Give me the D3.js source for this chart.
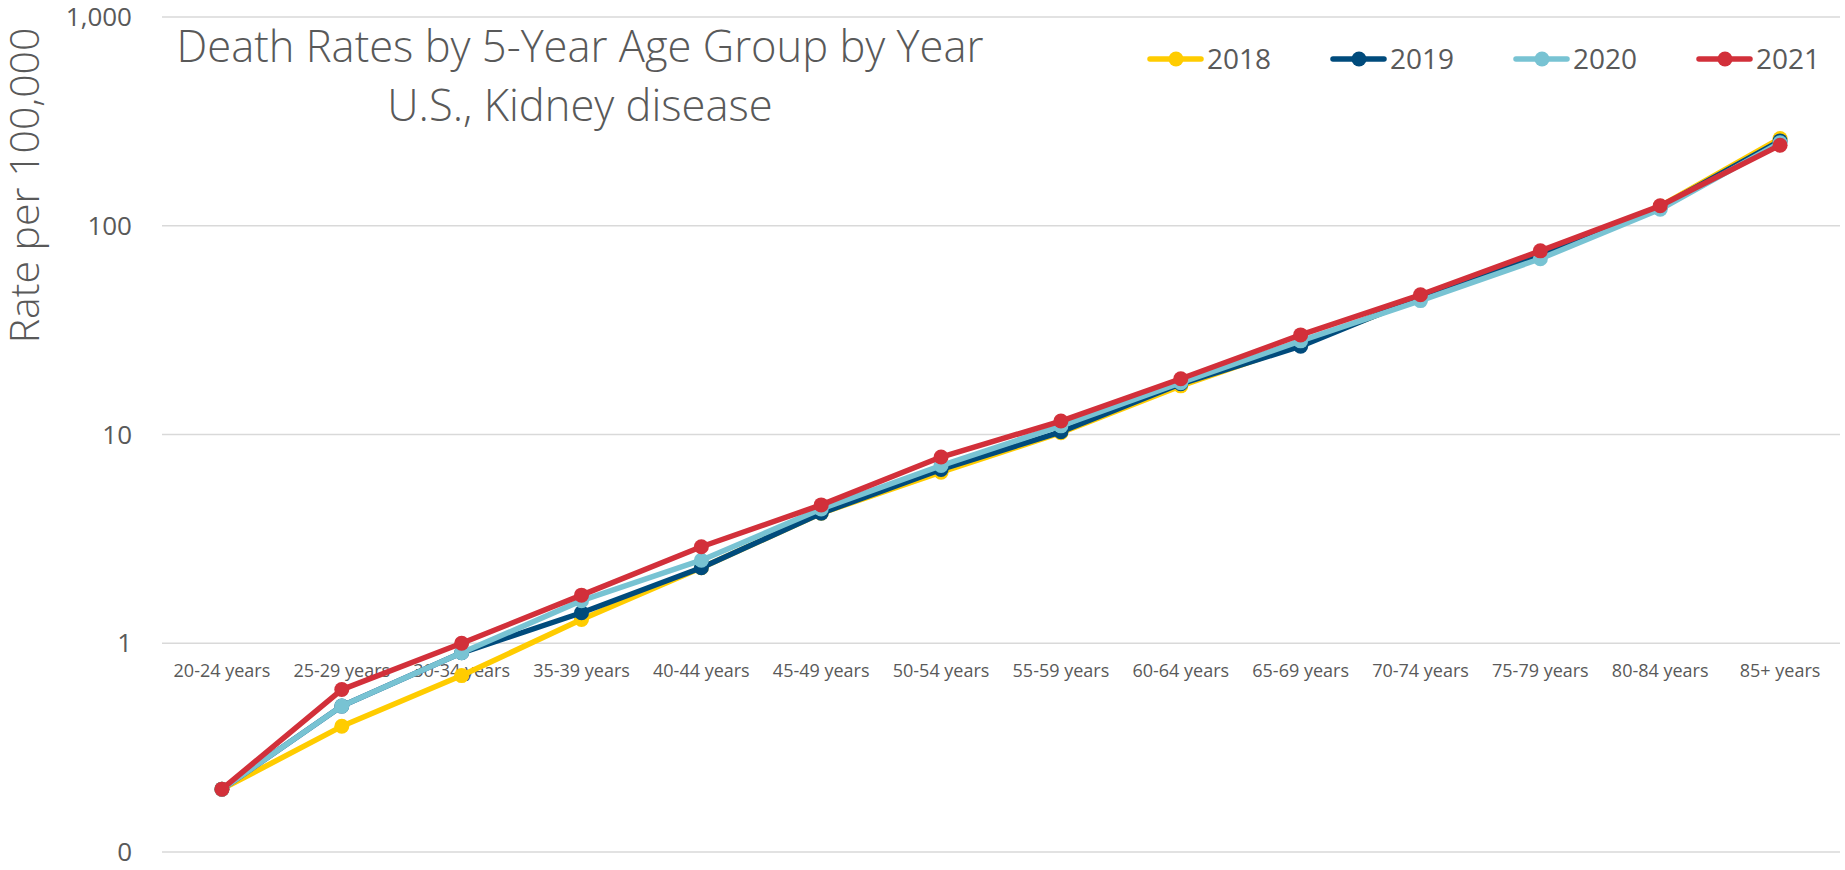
<!DOCTYPE html>
<html>
<head>
<meta charset="utf-8">
<script src="https://cdn.jsdelivr.net/npm/d3@7"></script>
<style>
  html, body { margin: 0; padding: 0; background: #fff; }
  svg { display: block; }
  text { font-family: "Open Sans", "Noto Sans", sans-serif; fill: #595959; }
</style>
</head>
<body>
<svg id="chart" width="1845" height="870"></svg>
<script>
const categories = ["20-24 years","25-29 years","30-34 years","35-39 years","40-44 years","45-49 years","50-54 years","55-59 years","60-64 years","65-69 years","70-74 years","75-79 years","80-84 years","85+ years"];
const years = ["2018","2019","2020","2021"];
const rates2018 = [0.2, 0.4, 0.7, 1.3, 2.3, 4.2, 6.6, 10.2, 17.1, 27.0, 45.0, 73.0, 124, 262];
const rates2019 = [0.2, 0.5, 0.9, 1.4, 2.3, 4.2, 6.8, 10.3, 17.5, 26.5, 45.5, 73.0, 123, 255];
const rates2020 = [0.2, 0.5, 0.9, 1.6, 2.5, 4.4, 7.1, 11.0, 17.7, 28.1, 43.8, 69.5, 120, 250];
const rates2021 = [0.2, 0.6, 1.0, 1.7, 2.9, 4.6, 7.8, 11.6, 18.5, 30.0, 46.7, 75.8, 124.6, 243];
const yTicks = [0.1, 1, 10, 100, 1000];
const yTickLabels = ["0", "1", "10", "100", "1,000"];
const titleLines = ["Death Rates by 5-Year Age Group by Year", "U.S., Kidney disease"];
const yAxisTitle = "Rate per 100,000";

const colors = ["#FFCC00", "#004B7C", "#78C3D3", "#D2303A"];
const seriesValues = [rates2018, rates2019, rates2020, rates2021];

(function () {
const svg = d3.select("#chart");
const plotLeft = 162, plotRight = 1840, plotTop = 17, plotBottom = 852;

const x = d3.scaleBand().domain(categories).range([plotLeft, plotRight]).padding(0);
const cx = d => x(d) + x.bandwidth() / 2;
const y = d3.scaleLog().domain([0.1, 1000]).range([plotBottom, plotTop]);

// gridlines
svg.append("g").selectAll("line").data(yTicks).join("line")
  .attr("x1", plotLeft).attr("x2", plotRight)
  .attr("y1", d => y(d)).attr("y2", d => y(d))
  .attr("stroke", "#d9d9d9").attr("stroke-width", 1.3);

// y tick labels
svg.append("g").selectAll("text").data(yTicks).join("text")
  .attr("x", 132).attr("y", d => y(d))
  .attr("dy", "0.35em")
  .attr("text-anchor", "end")
  .style("font-size", "26px")
  .text((d, i) => yTickLabels[i]);

// x category labels (axis crosses at 1)
svg.append("g").selectAll("text").data(categories).join("text")
  .attr("x", d => cx(d)).attr("y", y(1) + 34)
  .attr("text-anchor", "middle")
  .style("font-size", "18px")
  .text(d => d);

// y axis title
svg.append("text")
  .attr("transform", `translate(39,${(23 + 348) / 2}) rotate(-90)`)
  .attr("text-anchor", "middle")
  .style("font-size", "41px")
  .style("font-weight", 300)
  .text(yAxisTitle);

// title
svg.append("g").selectAll("text").data(titleLines).join("text")
  .attr("x", 580).attr("y", (d, i) => 62 + i * 59)
  .attr("text-anchor", "middle")
  .style("font-size", "43.5px")
  .style("font-weight", 300)
  .text(d => d);

// series
const line = d3.line().x((d, i) => cx(categories[i])).y(d => y(d));
const series = years.map((yr, k) => ({ year: yr, values: seriesValues[k], color: colors[k] }));

const sg = svg.append("g").selectAll("g").data(series).join("g");
sg.append("path")
  .attr("d", d => line(d.values))
  .attr("fill", "none")
  .attr("stroke", d => d.color)
  .attr("stroke-width", 5.5)
  .attr("stroke-linejoin", "round");
sg.each(function(s) {
  d3.select(this).selectAll("circle").data(s.values).join("circle")
    .attr("cx", (d, i) => cx(categories[i]))
    .attr("cy", d => y(d))
    .attr("r", 7.5)
    .attr("fill", s.color);
});

// legend
const legendX = 1147, legendStep = 183, legendY = 59;
const lg = svg.append("g").selectAll("g").data(series).join("g")
  .attr("transform", (d, i) => `translate(${legendX + i * legendStep},${legendY})`);
lg.append("line")
  .attr("x1", 3).attr("x2", 54).attr("y1", 0).attr("y2", 0)
  .attr("stroke", d => d.color).attr("stroke-width", 5.5).attr("stroke-linecap", "round");
lg.append("circle").attr("cx", 29).attr("cy", 0).attr("r", 7.5).attr("fill", d => d.color);
lg.append("text")
  .attr("x", 60).attr("y", 0).attr("dy", "0.35em")
  .style("font-size", "28px")
  .text(d => d.year);
})();
</script>
</body>
</html>
